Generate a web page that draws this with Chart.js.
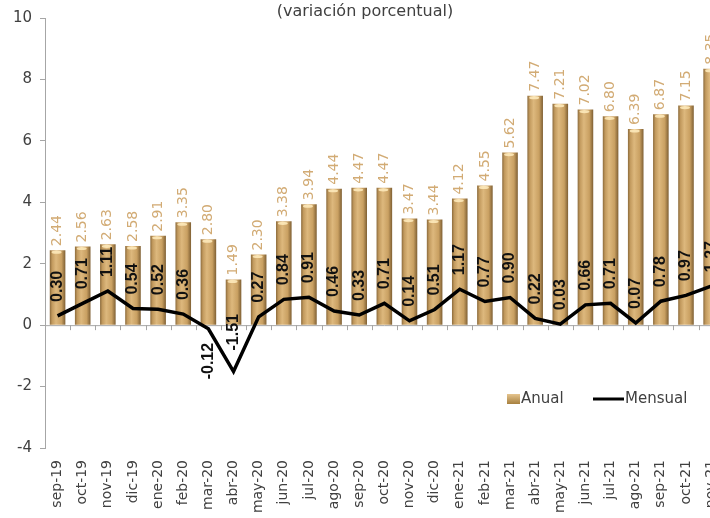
<!DOCTYPE html>
<html>
<head>
<meta charset="utf-8">
<script src="https://cdn.jsdelivr.net/npm/chart.js@4.4.1/dist/chart.umd.min.js"></script>
<style>
  html, body { margin: 0; padding: 0; background: #fff; overflow: hidden; }
  #wrap { position: relative; width: 732px; height: 518px; }
</style>
</head>
<body>
<div id="wrap"><canvas id="chart"></canvas></div>
<script>
// Data
const categories = ['sep-19', 'oct-19', 'nov-19', 'dic-19', 'ene-20', 'feb-20', 'mar-20', 'abr-20', 'may-20',
    'jun-20', 'jul-20', 'ago-20', 'sep-20', 'oct-20', 'nov-20', 'dic-20', 'ene-21', 'feb-21', 'mar-21',
    'abr-21', 'may-21', 'jun-21', 'jul-21', 'ago-21', 'sep-21', 'oct-21', 'nov-21'];
const anual = [2.44, 2.56, 2.63, 2.58, 2.91, 3.35, 2.80, 1.49, 2.30, 3.38, 3.94, 4.44, 4.47, 4.47, 3.47, 3.44,
    4.12, 4.55, 5.62, 7.47, 7.21, 7.02, 6.80, 6.39, 6.87, 7.15, 8.35];
const mensual = [0.30, 0.71, 1.11, 0.54, 0.52, 0.36, -0.12, -1.51, 0.27, 0.84, 0.91, 0.46, 0.33, 0.71, 0.14, 0.51,
    1.17, 0.77, 0.90, 0.22, 0.03, 0.66, 0.71, 0.07, 0.78, 0.97, 1.27];
const yTicks = [-4, -2, 0, 2, 4, 6, 8, 10];

const labelTan = '#D2AB74';
const axisGray = '#A6A6A6';
const textGray = '#404040';

// horizontal gradient so each bar looks like a cylinder
function barFill(ctx) {
    const chart = ctx.chart;
    const xs = chart.scales.x;
    if (!xs || ctx.dataIndex === undefined) return '#CFA567';
    const cx = xs.getPixelForValue(ctx.dataIndex);
    const w = (xs.width / categories.length) * 0.62;
    if (!isFinite(cx) || !isFinite(w) || w <= 0) return '#CFA567';
    const g = chart.ctx.createLinearGradient(cx - w / 2, 0, cx + w / 2, 0);
    g.addColorStop(0, '#8C6B3C');
    g.addColorStop(0.15, '#C29A5E');
    g.addColorStop(0.4, '#DDB87D');
    g.addColorStop(0.75, '#C9A062');
    g.addColorStop(1, '#7E5F33');
    return g;
}

// zero line, rotated value labels, subtitle and legend
const extras = {
    id: 'extras',
    beforeDatasetsDraw(chart) {
        const { ctx, scales: { x, y } } = chart;
        const y0 = y.getPixelForValue(0);
        ctx.save();
        ctx.strokeStyle = axisGray;
        ctx.lineWidth = 1;
        ctx.beginPath();
        ctx.moveTo(x.left, y0 + 0.5);
        ctx.lineTo(x.right, y0 + 0.5);
        const step = x.width / categories.length;
        for (let i = 1; i <= categories.length; i++) {
            const px = Math.round(x.left + i * step) + 0.5;
            ctx.moveTo(px, y0);
            ctx.lineTo(px, y0 + 5);
        }
        ctx.stroke();
        ctx.restore();
    },
    afterDatasetsDraw(chart) {
        const { ctx, scales: { x, y } } = chart;
        ctx.save();
        // bar caps
        const barMeta = chart.getDatasetMeta(0);
        barMeta.data.forEach((bar) => {
            const w = bar.width;
            ctx.fillStyle = 'rgba(255, 236, 190, 0.85)';
            ctx.beginPath();
            ctx.ellipse(bar.x - 1, bar.y + 2, w * 0.32, 1.6, 0, 0, Math.PI * 2);
            ctx.fill();
        });

        // anual labels
        ctx.font = '14px "DejaVu Sans"';
        ctx.fillStyle = labelTan;
        ctx.textBaseline = 'middle';
        ctx.textAlign = 'left';
        anual.forEach((v, i) => {
            const px = x.getPixelForValue(i);
            const py = y.getPixelForValue(v) - 4;
            ctx.save();
            ctx.translate(px, py);
            ctx.rotate(-Math.PI / 2);
            ctx.fillText(v.toFixed(2), 0, 0);
            ctx.restore();
        });

        // mensual labels
        ctx.font = 'bold 16px "Liberation Sans Narrow", "Liberation Sans", Arial';
        ctx.fillStyle = '#111';
        mensual.forEach((v, i) => {
            const px = x.getPixelForValue(i);
            const py = y.getPixelForValue(v);
            ctx.save();
            ctx.translate(px, py);
            ctx.rotate(-Math.PI / 2);
            if (v === -0.12) {
                ctx.textAlign = 'right';
                ctx.fillText(v.toFixed(2), -14, 0);
            } else {
                ctx.textAlign = 'left';
                ctx.fillText(v.toFixed(2), v < 0 ? 21 : 14, 0);
            }
            ctx.restore();
        });

        // subtitle
        ctx.font = '16px "DejaVu Sans"';
        ctx.fillStyle = textGray;
        ctx.textAlign = 'center';
        ctx.textBaseline = 'middle';
        ctx.fillText('(variación porcentual)', 365, 12);

        // legend
        ctx.font = '15px "DejaVu Sans"';
        ctx.textAlign = 'left';
        const ly = 399;
        const lg = ctx.createLinearGradient(0, ly - 5, 0, ly + 5);
        lg.addColorStop(0, '#E5C48E');
        lg.addColorStop(1, '#A7803F');
        ctx.fillStyle = lg;
        ctx.fillRect(507, ly - 5, 13, 10);
        ctx.fillStyle = textGray;
        ctx.fillText('Anual', 521, ly);
        ctx.strokeStyle = '#000';
        ctx.lineWidth = 3;
        ctx.beginPath();
        ctx.moveTo(593, ly);
        ctx.lineTo(624, ly);
        ctx.stroke();
        ctx.fillText('Mensual', 625, ly);
        ctx.restore();
    }
};

new Chart(document.getElementById('chart'), {
    data: {
        labels: categories,
        datasets: [
            {
                type: 'bar',
                label: 'Anual',
                data: anual,
                backgroundColor: barFill,
                barPercentage: 0.62,
                categoryPercentage: 1,
                order: 2
            },
            {
                type: 'line',
                label: 'Mensual',
                data: mensual,
                borderColor: '#000',
                borderWidth: 3.5,
                pointRadius: 0,
                tension: 0,
                order: 1
            }
        ]
    },
    options: {
        responsive: true,
        maintainAspectRatio: false,
        animation: false,
        layout: { padding: { top: 18, right: 4, left: 0, bottom: 0 } },
        plugins: {
            legend: { display: false },
            tooltip: { enabled: false }
        },
        scales: {
            x: {
                grid: { display: false },
                border: { display: false },
                ticks: {
                    minRotation: 90,
                    maxRotation: 90,
                    autoSkip: false,
                    padding: 4,
                    color: textGray,
                    font: { family: '"DejaVu Sans"', size: 14 }
                },
                afterFit(scale) { scale.height = 70; }
            },
            y: {
                min: -4,
                max: 10,
                afterBuildTicks(scale) { scale.ticks = yTicks.map(v => ({ value: v })); },
                grid: { drawOnChartArea: false, drawTicks: true, tickLength: 5, color: axisGray },
                border: { display: true, color: axisGray },
                ticks: {
                    padding: 8,
                    color: textGray,
                    font: { family: '"DejaVu Sans"', size: 15 }
                },
                afterFit(scale) { scale.width = 45; }
            }
        }
    },
    plugins: [extras]
});
</script>
</body>
</html>
